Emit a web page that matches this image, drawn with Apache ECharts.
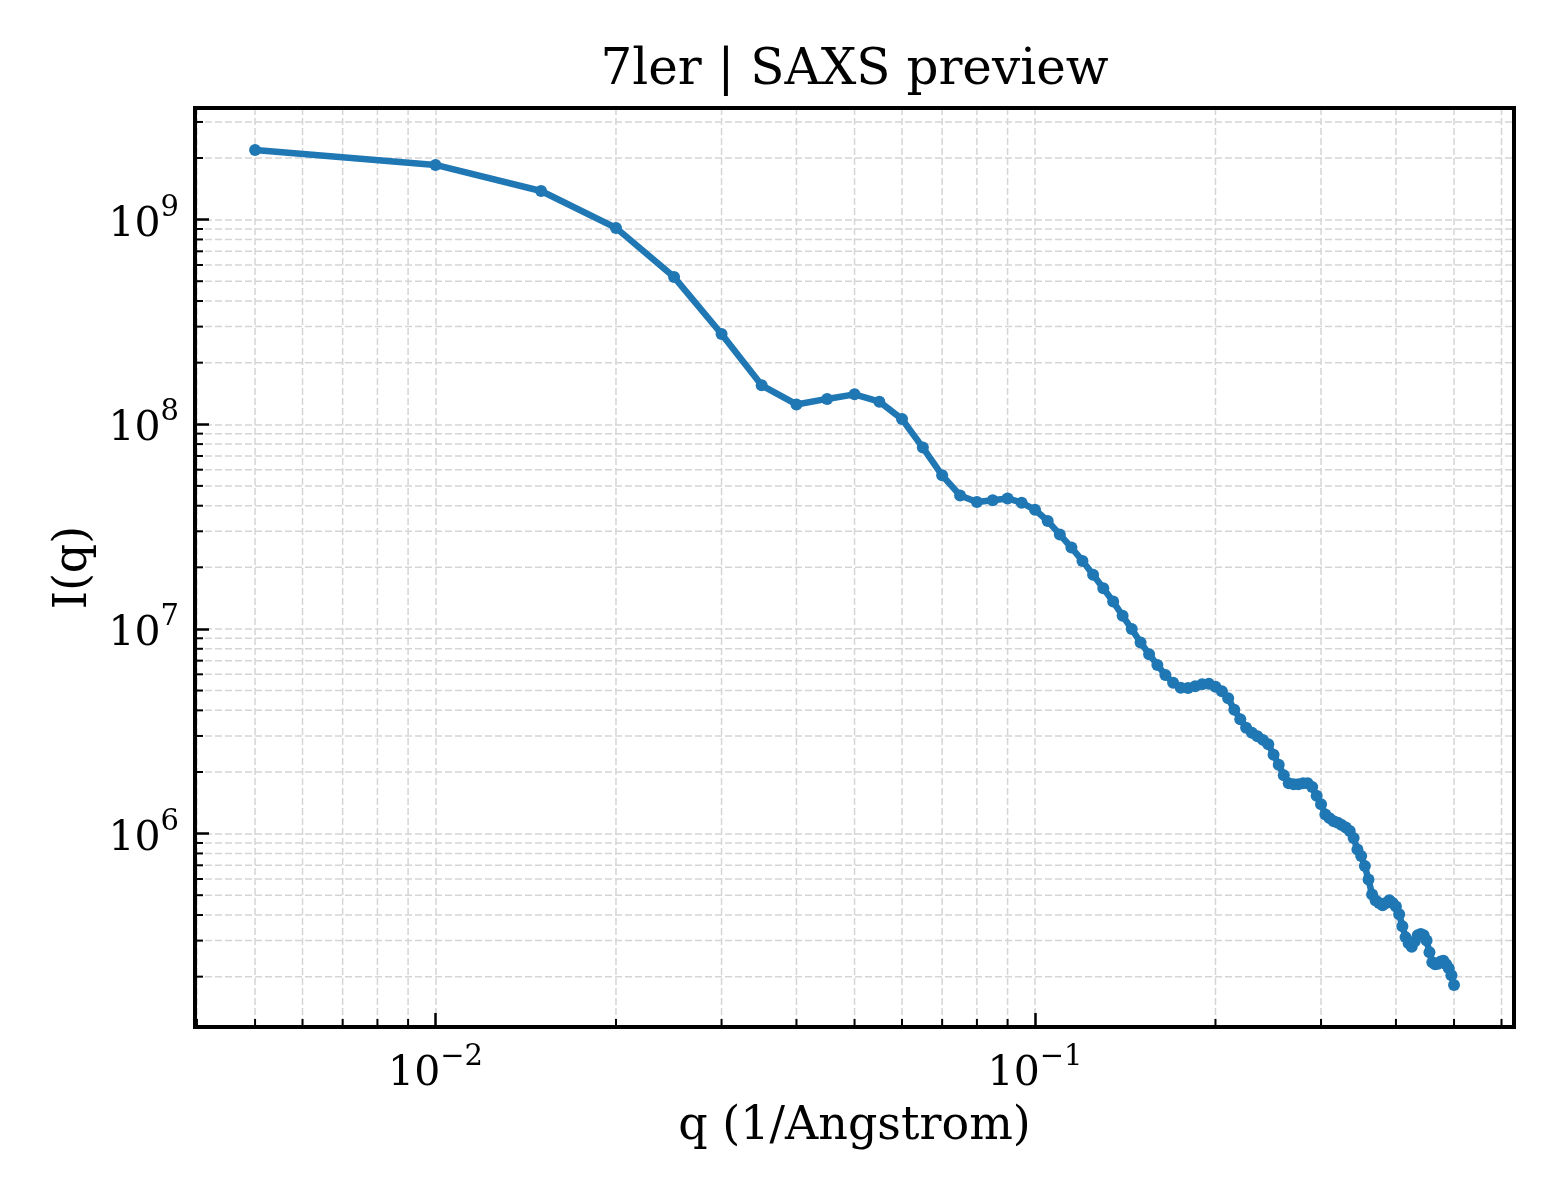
<!DOCTYPE html>
<html>
<head>
<meta charset="utf-8">
<title>7ler | SAXS preview</title>
<script src="https://cdn.jsdelivr.net/npm/echarts@6/dist/echarts.min.js"></script>
<style>
  html, body { margin: 0; padding: 0; background: #fff; }
  #chart { width: 1560px; height: 1200px; }
</style>
</head>
<body>
<div id="chart"></div>
<script>
// scattering vector q (1/Angstrom)
const q = [
  0.005, 0.010, 0.015, 0.020, 0.025, 0.030, 0.035, 0.040, 0.045, 0.050,
  0.055, 0.060, 0.065, 0.070, 0.075, 0.080, 0.085, 0.090, 0.095, 0.100,
  0.105, 0.110, 0.115, 0.120, 0.125, 0.130, 0.135, 0.140, 0.145, 0.150,
  0.155, 0.160, 0.165, 0.170, 0.175, 0.180, 0.185, 0.190, 0.195, 0.200,
  0.205, 0.210, 0.215, 0.220, 0.225, 0.230, 0.235, 0.240, 0.245, 0.250,
  0.255, 0.260, 0.265, 0.270, 0.275, 0.280, 0.285, 0.290, 0.295, 0.300,
  0.305, 0.310, 0.315, 0.320, 0.325, 0.330, 0.335, 0.340, 0.345, 0.350,
  0.355, 0.360, 0.365, 0.370, 0.375, 0.380, 0.385, 0.390, 0.395, 0.400,
  0.405, 0.410, 0.415, 0.420, 0.425, 0.430, 0.435, 0.440, 0.445, 0.450,
  0.455, 0.460, 0.465, 0.470, 0.475, 0.480, 0.485, 0.490, 0.495, 0.500
];

// scattered intensity I(q)
const intensity = [
  2.19e9, 1.85e9, 1.38e9, 9.11e8, 5.24e8, 2.76e8, 1.55e8, 1.25e8, 1.33e8, 1.40e8,
  1.29e8, 1.06e8, 7.69e7, 5.63e7, 4.49e7, 4.17e7, 4.25e7, 4.34e7, 4.14e7, 3.82e7,
  3.37e7, 2.89e7, 2.50e7, 2.15e7, 1.84e7, 1.58e7, 1.36e7, 1.16e7, 9.98e6, 8.58e6,
  7.53e6, 6.67e6, 5.95e6, 5.46e6, 5.16e6, 5.14e6, 5.25e6, 5.37e6, 5.40e6, 5.22e6,
  4.96e6, 4.58e6, 4.03e6, 3.62e6, 3.29e6, 3.11e6, 2.99e6, 2.87e6, 2.73e6, 2.43e6,
  2.17e6, 1.93e6, 1.76e6, 1.74e6, 1.74e6, 1.76e6, 1.76e6, 1.69e6, 1.53e6, 1.39e6,
  1.24e6, 1.19e6, 1.15e6, 1.13e6, 1.10e6, 1.07e6, 1.03e6, 9.52e5, 8.36e5, 7.77e5,
  6.94e5, 5.96e5, 5.04e5, 4.71e5, 4.58e5, 4.47e5, 4.58e5, 4.72e5, 4.58e5, 4.40e5,
  4.04e5, 3.53e5, 3.12e5, 2.91e5, 2.80e5, 2.98e5, 3.19e5, 3.23e5, 3.19e5, 3.00e5,
  2.63e5, 2.35e5, 2.30e5, 2.31e5, 2.37e5, 2.39e5, 2.30e5, 2.20e5, 2.03e5, 1.82e5
];

const xRange = [0.00397, 0.6295];
const yRange = [1.135e5, 3.51e9];
const minorSteps = [2, 3, 4, 5, 6, 7, 8, 9];

const FONT = '"DejaVu Serif", "Liberation Serif", serif';
const box = { left: 195, top: 108, right: 1514, bottom: 1027 };

function powLabel(v) {
    const lg = Math.log10(v);
    const e = Math.round(lg);
    if (Math.abs(lg - e) > 1e-6) {
        return '';
    }
    return '{base|10}{sup|' + (e < 0 ? '\u2212' + (-e) : e) + '}';
}

const labelRich = {
    base: { fontFamily: FONT, fontSize: 41, color: '#000', lineHeight: 52, verticalAlign: 'bottom' },
    sup: { fontFamily: FONT, fontSize: 29, color: '#000', lineHeight: 52, verticalAlign: 'top' }
};

const majorTick = { show: true, inside: true, length: 14, lineStyle: { color: '#000', width: 2.5 } };
const majorGrid = { show: true, lineStyle: { color: '#d5d5d5', width: 1.5, type: [7, 3] } };

const option = {
    animation: false,
    backgroundColor: '#fff',
    title: {
        text: '7ler | SAXS preview',
        left: (box.left + box.right) / 2 - 5,
        textAlign: 'center',
        top: 41,
        textStyle: { fontFamily: FONT, fontSize: 50, fontWeight: 'normal', color: '#000' }
    },
    grid: {
        left: box.left,
        top: box.top,
        width: box.right - box.left,
        height: box.bottom - box.top,
        show: false
    },
    xAxis: {
        type: 'log',
        logBase: 10,
        min: xRange[0],
        max: xRange[1],
        name: 'q (1/Angstrom)',
        nameLocation: 'middle',
        nameGap: 77,
        nameTextStyle: { fontFamily: FONT, fontSize: 46, color: '#000' },
        axisLine: { show: false },
        axisTick: majorTick,
        splitLine: majorGrid,
        axisLabel: {
            margin: 16,
            showMinLabel: false,
            showMaxLabel: false,
            formatter: powLabel,
            rich: labelRich
        }
    },
    yAxis: {
        type: 'log',
        logBase: 10,
        min: yRange[0],
        max: yRange[1],
        name: 'I(q)',
        nameLocation: 'middle',
        nameGap: 98,
        nameTextStyle: { fontFamily: FONT, fontSize: 46, color: '#000' },
        axisLine: { show: false },
        axisTick: majorTick,
        splitLine: majorGrid,
        axisLabel: {
            margin: 16,
            showMinLabel: false,
            showMaxLabel: false,
            formatter: powLabel,
            rich: labelRich
        }
    },
    series: [{
        type: 'line',
        data: q.map((x, i) => [x, intensity[i]]),
        color: '#1f77b4',
        lineStyle: { width: 6.5 },
        symbol: 'circle',
        symbolSize: 12,
        showSymbol: true,
        itemStyle: { color: '#1f77b4', borderWidth: 0 },
        z: 5
    }]
};

const chart = echarts.init(document.getElementById('chart'));
chart.setOption(option);

function minorValues(range) {
    const out = [];
    const e0 = Math.floor(Math.log10(range[0]));
    const e1 = Math.ceil(Math.log10(range[1]));
    for (let e = e0; e <= e1; e++) {
        minorSteps.forEach(m => {
            const v = m * Math.pow(10, e);
            if (v > range[0] && v < range[1]) {
                out.push(v);
            }
        });
    }
    return out;
}

// matplotlib-style minor grid, inward minor ticks and the axes frame
const gridStyle = { stroke: '#d5d5d5', lineWidth: 1.5, lineDash: [7, 3], fill: null };
const tickStyle = { stroke: '#000', lineWidth: 2, fill: null };
const elements = [];

minorValues(xRange).forEach(v => {
    const x = chart.convertToPixel({ xAxisIndex: 0 }, v);
    elements.push({ type: 'line', silent: true, z: 0, shape: { x1: x, y1: box.top, x2: x, y2: box.bottom }, style: gridStyle });
    elements.push({ type: 'line', silent: true, z: 50, shape: { x1: x, y1: box.bottom, x2: x, y2: box.bottom - 8 }, style: tickStyle });
});

minorValues(yRange).forEach(v => {
    const y = chart.convertToPixel({ yAxisIndex: 0 }, v);
    elements.push({ type: 'line', silent: true, z: 0, shape: { x1: box.left, y1: y, x2: box.right, y2: y }, style: gridStyle });
    elements.push({ type: 'line', silent: true, z: 50, shape: { x1: box.left, y1: y, x2: box.left + 8, y2: y }, style: tickStyle });
});

elements.push({
    type: 'rect',
    silent: true,
    z: 60,
    shape: { x: box.left, y: box.top, width: box.right - box.left, height: box.bottom - box.top },
    style: { fill: null, stroke: '#000', lineWidth: 4 }
});

chart.setOption({ graphic: { elements: elements } });
</script>
</body>
</html>
